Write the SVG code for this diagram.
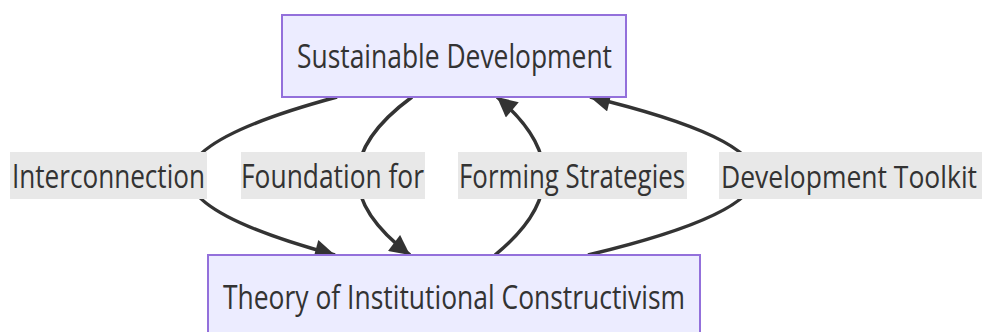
<svg xmlns="http://www.w3.org/2000/svg" width="984" height="332" viewBox="0 0 984 332">
<defs>
<style>
.node rect{fill:#ECECFF;stroke:#9370DB;stroke-width:2}
.t{font-family:"Open Sans","Noto Sans",sans-serif;font-size:32px;fill:#333}
.edge{fill:none;stroke:#333;stroke-width:3.5}
.lbl{fill:#e8e8e8}
</style>
<marker id="arr" viewBox="0 0 10 10" refX="10" refY="5" markerUnits="userSpaceOnUse" markerWidth="22" markerHeight="20" orient="auto">
<path d="M0,0 L10,5 L0,10 z" fill="#333"/>
</marker>
</defs>
<rect width="984" height="332" fill="#fff"/>
<g id="edges">
<path class="edge" d="M337,97 C140,150 140,202 335,255" marker-end="url(#arr)"/>
<path class="edge" d="M412,97 C340,150 340,202 410,255" marker-end="url(#arr)"/>
<path class="edge" d="M495,255 C560,202 560,150 497,97" marker-end="url(#arr)"/>
<path class="edge" d="M588,255 C810,202 810,150 590,97" marker-end="url(#arr)"/>
</g>
<g id="edge-labels">
<g id="label-interconnection"><rect class="lbl" x="10" y="152" width="197" height="47"/><text class="t" x="12" y="188" textLength="193" lengthAdjust="spacingAndGlyphs">Interconnection</text></g>
<g id="label-foundation"><rect class="lbl" x="241" y="152" width="184" height="47"/><text class="t" x="241" y="188" textLength="183" lengthAdjust="spacingAndGlyphs">Foundation for</text></g>
<g id="label-forming"><rect class="lbl" x="458" y="152" width="229" height="47"/><text class="t" x="459" y="188" textLength="226" lengthAdjust="spacingAndGlyphs">Forming Strategies</text></g>
<g id="label-toolkit"><rect class="lbl" x="719" y="152" width="263" height="47"/><text class="t" transform="translate(721,188) scale(1,1.2)" x="0" y="0" style="font-size:26.5px" textLength="256" lengthAdjust="spacingAndGlyphs">Development Toolkit</text></g>
</g>
<g id="node-sd" class="node"><rect x="282" y="15" width="344" height="82"/><text class="t" x="297" y="68" textLength="315" lengthAdjust="spacingAndGlyphs">Sustainable Development</text></g>
<g id="node-tic" class="node"><rect x="208" y="255" width="492" height="82"/><text class="t" x="223" y="309" textLength="462" lengthAdjust="spacingAndGlyphs">Theory of Institutional Constructivism</text></g>
</svg>
